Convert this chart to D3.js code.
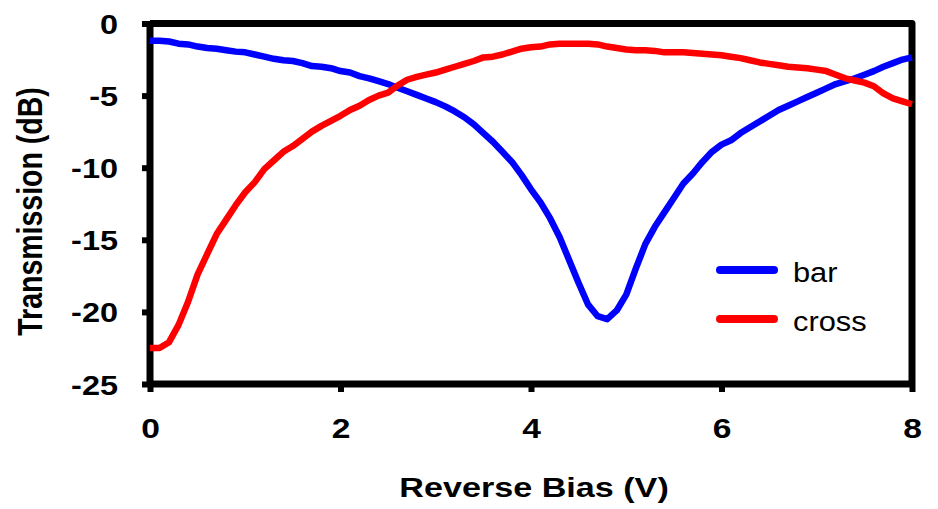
<!DOCTYPE html>
<html><head><meta charset="utf-8">
<script src="https://cdn.jsdelivr.net/npm/d3@7"></script>
<style>body{margin:0;background:#fff}svg{display:block}</style>
</head><body>
<svg id="c" width="938" height="509"></svg>
<script>
const biasV = d3.range(0, 81).map(i => +(i * 0.1).toFixed(1));
const barDB = [-1.2,-1.2,-1.25,-1.4,-1.45,-1.6,-1.7,-1.75,-1.85,-1.95,
 -2.0,-2.15,-2.3,-2.45,-2.55,-2.6,-2.75,-2.95,-3.0,-3.1,
 -3.3,-3.4,-3.65,-3.8,-4.0,-4.2,-4.45,-4.7,-4.95,-5.2,
 -5.45,-5.75,-6.1,-6.5,-7.0,-7.6,-8.2,-8.9,-9.6,-10.5,
 -11.5,-12.4,-13.5,-14.8,-16.4,-18.0,-19.5,-20.3,-20.5,-19.9,
 -18.8,-17.0,-15.3,-14.1,-13.1,-12.1,-11.1,-10.4,-9.6,-8.9,
 -8.4,-8.1,-7.6,-7.2,-6.8,-6.4,-6.0,-5.7,-5.4,-5.1,
 -4.8,-4.5,-4.2,-4.0,-3.8,-3.55,-3.3,-3.0,-2.75,-2.5,-2.35];
const crossDB = [-22.5,-22.5,-22.1,-20.9,-19.3,-17.4,-16.0,-14.6,-13.6,-12.6,
 -11.7,-11.0,-10.1,-9.5,-8.9,-8.5,-8.0,-7.5,-7.1,-6.75,
 -6.4,-6.0,-5.7,-5.3,-5.0,-4.8,-4.3,-3.9,-3.7,-3.55,
 -3.4,-3.2,-3.0,-2.8,-2.6,-2.35,-2.3,-2.15,-1.95,-1.75,
 -1.65,-1.6,-1.45,-1.4,-1.4,-1.4,-1.4,-1.45,-1.6,-1.7,
 -1.8,-1.85,-1.85,-1.9,-2.0,-2.0,-2.0,-2.05,-2.1,-2.15,
 -2.2,-2.3,-2.4,-2.55,-2.7,-2.8,-2.9,-3.0,-3.05,-3.1,
 -3.2,-3.3,-3.55,-3.8,-3.95,-4.1,-4.35,-4.85,-5.2,-5.4,-5.6];
const xTicks = [0, 2, 4, 6, 8];
const yTicks = [0, -5, -10, -15, -20, -25];
const seriesNames = ["bar", "cross"];
const seriesColors = ["#0000ff", "#ff0000"];

const svg = d3.select("#c");
const L = 150, R = 912, T = 23.5, B = 384;
const x = d3.scaleLinear().domain([0, 8]).range([L, R]);
const y = d3.scaleLinear().domain([-25, 0]).range([B, T]);
const font = "'Liberation Sans', Arial, sans-serif";
const SX = 1.2; // horizontal stretch of the reference text

// frame top/right
svg.append("path").attr("d", `M${L},${T}H${R}V${B}`).attr("fill", "none")
  .attr("stroke", "#000").attr("stroke-width", 7).attr("stroke-linejoin", "round");

// axes
const fmt = d => String(d);
const xAxis = svg.append("g").attr("transform", `translate(0,${B})`)
  .call(d3.axisBottom(x).tickValues(xTicks).tickSize(8).tickPadding(26).tickFormat(fmt));
const yAxis = svg.append("g").attr("transform", `translate(${L},0)`)
  .call(d3.axisLeft(y).tickValues(yTicks).tickSize(8).tickPadding(24).tickFormat(fmt));
[xAxis, yAxis].forEach(g => {
  g.select(".domain").attr("stroke", "#000").attr("stroke-width", 7);
  g.selectAll(".tick line").attr("stroke", "#000").attr("stroke-width", 6);
  g.selectAll("text").attr("font-family", font).attr("font-weight", "bold")
    .attr("font-size", 28).attr("fill", "#000");
});
xAxis.select(".domain").attr("d", `M${L},0H${R}`);
yAxis.select(".domain").attr("d", `M0,${T}V${B}`);
xAxis.selectAll("text").attr("transform", `scale(${SX},1)`);
yAxis.selectAll("text").attr("x", 0).attr("dy", "0.36em")
  .attr("transform", `translate(-32,0) scale(1.16,1)`);

// lines
const data = [barDB, crossDB];
const line = d3.line().x((d, i) => x(biasV[i])).y(d => y(d));
data.forEach((s, k) => {
  svg.append("path").datum(s).attr("d", line).attr("fill", "none")
    .attr("stroke", seriesColors[k]).attr("stroke-width", 6.5)
    .attr("stroke-linejoin", "round");
});

// legend
seriesNames.forEach((n, k) => {
  const ly = 270 + k * 49;
  svg.append("line").attr("x1", 720).attr("x2", 774).attr("y1", ly).attr("y2", ly)
    .attr("stroke", seriesColors[k]).attr("stroke-width", 8).attr("stroke-linecap", "round");
  svg.append("text").attr("transform", `translate(793,${ly + 12}) scale(1.1,1)`).text(n)
    .attr("font-family", font).attr("font-size", 28).attr("fill", "#000");
});

// axis titles
svg.append("text").attr("transform", `translate(534,497) scale(1.22,1)`).attr("text-anchor", "middle")
  .attr("font-family", font).attr("font-weight", "bold").attr("font-size", 28).text("Reverse Bias (V)");
svg.append("text").attr("transform", `translate(42,211.5) scale(1.22,1) rotate(-90)`)
  .attr("text-anchor", "middle").attr("font-family", font).attr("font-weight", "bold")
  .attr("font-size", 28.5).text("Transmission (dB)");
</script>
</body></html>
